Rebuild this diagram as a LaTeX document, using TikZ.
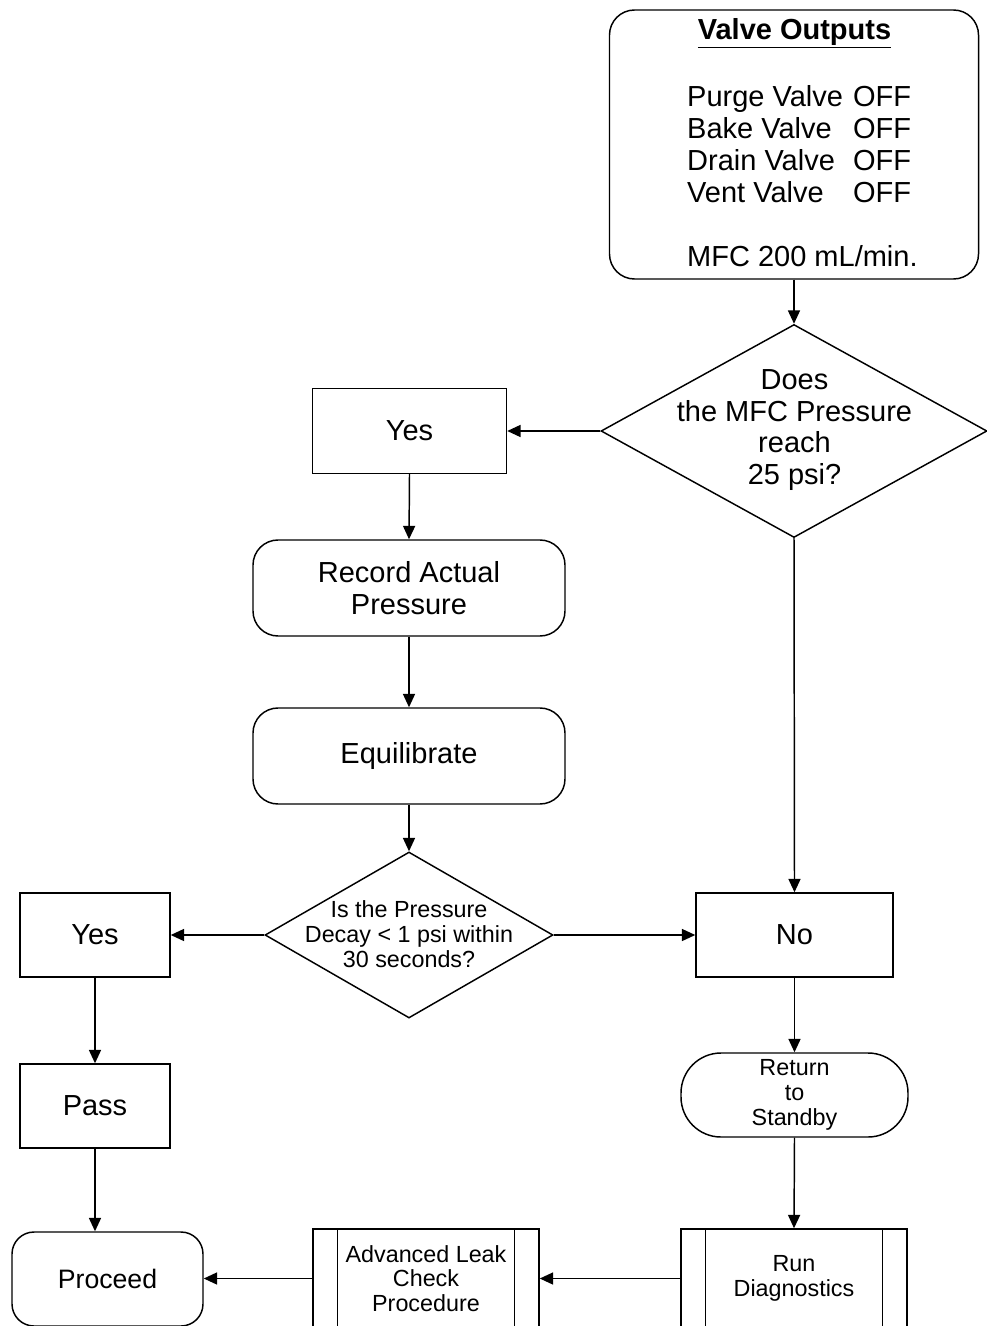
\documentclass[tikz,border=0pt]{standalone}
\usepackage{fontspec}
\setmainfont{Liberation Sans}
\usetikzlibrary{shapes.geometric,arrows.meta}
\begin{document}
\begin{tikzpicture}[x=0.75pt,y=-0.75pt,
  line width=1.1pt,
  arr/.style={-{Triangle[length=10pt,width=9pt]}},
  bigtext/.style={font=\fontsize{21.75pt}{23.6pt}\selectfont,align=center},
  smalltext/.style={font=\fontsize{17.5pt}{18.6pt}\selectfont,align=center},
  boxrect/.style={draw,rectangle,inner sep=0pt},
  boxround/.style={draw,rectangle,rounded corners=18.75pt,inner sep=0pt},
  dia/.style={draw,diamond,inner sep=0pt},
  sub/.style={draw,rectangle,inner sep=0pt,minimum width=169.5pt,minimum height=74.25pt}
]
\useasboundingbox (0,0) rectangle (986,1326);

% top box
\node[boxround,minimum width=276.75pt,minimum height=201.75pt] (vo) at (794,144.5) {};
\node[bigtext,font=\fontsize{21.75pt}{23.6pt}\selectfont\bfseries] (voh) at (794.5,33) {\underline{Valve Outputs}};
\node[bigtext,align=left,anchor=west,font=\fontsize{21.75pt}{23.9pt}\selectfont] (vob) at (682,176)
 {\makebox[124.5pt][l]{Purge Valve}OFF\\
  \makebox[124.5pt][l]{Bake Valve}OFF\\
  \makebox[124.5pt][l]{Drain Valve}OFF\\
  \makebox[124.5pt][l]{Vent Valve}OFF\\[23.9pt]
  MFC 200 mL/min.};

% decision 1
\node[dia,minimum width=289.5pt,minimum height=159.75pt] (d1) at (794,431) {};
\node[bigtext] (d1t) at (794.5,430) {Does\\the MFC Pressure\\reach\\25 psi?};

\node[boxrect,bigtext,minimum width=145.5pt,minimum height=63.75pt] (yes1) at (409.5,431) {Yes};
\node[boxround,bigtext,minimum width=234pt,minimum height=72pt] (rec) at (409,588) {Record Actual\\Pressure};
\node[boxround,bigtext,minimum width=234pt,minimum height=72pt] (eq) at (409,756) {Equilibrate};

% decision 2
\node[dia,minimum width=216pt,minimum height=124.5pt] (d2) at (409,935) {};
\node[smalltext] (d2t) at (409,934) {Is the Pressure\\Decay < 1 psi within\\30 seconds?};

\node[boxrect,bigtext,minimum width=112.5pt,minimum height=63pt] (yes2) at (95,935) {Yes};
\node[boxrect,bigtext,minimum width=147.75pt,minimum height=63pt] (no) at (794.5,935) {No};
\node[boxrect,bigtext,minimum width=112.5pt,minimum height=63pt] (pass) at (95,1106) {Pass};
\node[draw,rectangle,rounded corners=16.5pt,inner sep=0pt,minimum width=143.25pt,minimum height=70.5pt,
      font=\fontsize{20pt}{22pt}\selectfont] (proc) at (107.5,1279) {Proceed};
\node[draw,rectangle,rounded corners=30pt,inner sep=0pt,minimum width=170.25pt,minimum height=63pt,smalltext] (ret) at (794.5,1095) {Return\\to\\Standby};

% subroutine boxes
\node[sub,smalltext] (run) at (794,1278.5) {Run\\Diagnostics};
\node[sub,smalltext] (adv) at (426,1278.5) {Advanced Leak\\Check\\Procedure};
\foreach \n in {run,adv}{
  \draw ([xshift=19pt]\n.north west) -- ([xshift=19pt]\n.south west);
  \draw ([xshift=-19pt]\n.north east) -- ([xshift=-19pt]\n.south east);
}

% connectors
\draw[arr] (vo.south) -- (d1.north);
\draw[arr] (d1.west) -- (yes1.east);
\draw[arr] (yes1.south) -- (rec.north);
\draw[arr] (rec.south) -- (eq.north);
\draw[arr] (eq.south) -- (d2.north);
\draw[arr] (d2.west) -- (yes2.east);
\draw[arr] (d2.east) -- (no.west);
\draw[arr] (d1.south) -- (no.north);
\draw[arr] (yes2.south) -- (pass.north);
\draw[arr] (pass.south) -- (pass.south |- proc.north);
\draw[arr] (no.south) -- (ret.north);
\draw[arr] (ret.south) -- (run.north);
\draw[arr] (run.west) -- (adv.east);
\draw[arr] (adv.west) -- (adv.west -| proc.east);
\end{tikzpicture}
\end{document}
